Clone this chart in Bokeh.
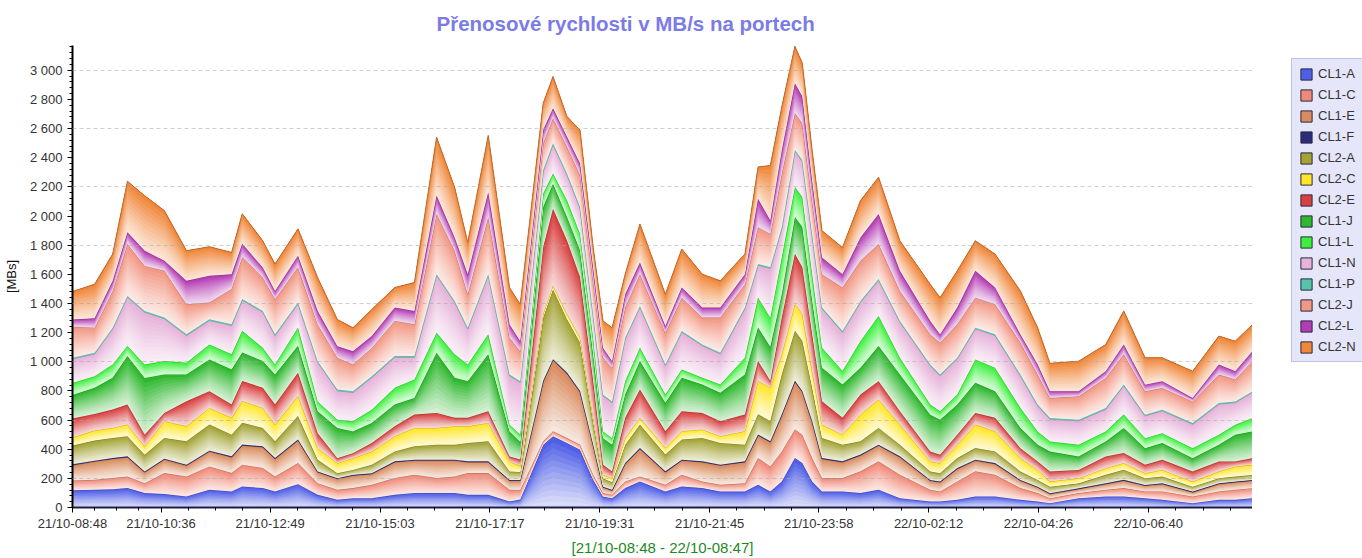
import numpy as np
from bokeh.plotting import figure
from bokeh.layouts import row
from bokeh.models import Range1d, FixedTicker, Legend, LegendItem
from bokeh.embed import file_html
from bokeh.resources import INLINE

# time axis: minutes after 21/10-08:48
minutes = [0, 27, 49, 67, 88, 112, 139, 167, 194, 207, 232, 247, 275, 299, 323,
           342, 365, 393, 417, 444, 466, 482, 507, 533, 546, 574, 586, 603, 619, 635,
           647, 658, 674, 692, 723, 743, 768, 790, 820, 836, 851, 865, 881, 890, 902,
           914, 939, 961, 983, 1009, 1046, 1058, 1079, 1101, 1125, 1156, 1177, 1192, 1227, 1260,
           1282, 1308, 1329, 1366, 1398, 1418, 1439]

CL1_A = [118,122,126,133,99, 92,76,122,110,144, 133,110,160,87,53, 64,64,87,99,99,
         99,87,87,41,55, 431,489,443,397,190, 76,64,133,179,110, 144,133,110,110,156,
         110,179,339,305,179, 110,110,99,122,64, 41,41,53,76,76, 53,41,30,64,76,
         76,64,53,30,53, 53,64]
CL1_C = [67,68,76,80,68, 144,137,160,126,150, 138,103,145,80,69, 69,92,115,126,103,
         114,149,149,81,65, 23,34,34,34,35, 23,23,46,34,46, 81,46,46,57,183,
         172,206,196,195,160, 92,92,149,195,161, 81,69,126,172,149, 80,58,34,35,46,
         57,46,57,46,57, 69,69]
CL1_E = [105,125,131,132,75, 93,75,102,109,131, 143,120,155,75,74, 86,74,109,97,120,
         109,75,75,62,64, 407,487,441,361,200, 39,29,120,189,86, 97,132,132,144,155,
         166,247,326,292,247, 131,109,109,108,120, 62,63,86,74,74, 51,39,29,28,39,
         51,40,51,28,51, 51,51]
CL1_F = [6,6,6,6,5, 6,6,6,6,7, 6,6,7,5,5, 5,5,6,6,6,
         6,6,6,5,5, 8,8,8,7,6, 5,5,6,6,6, 6,6,6,6,7,
         7,7,8,8,7, 6,6,6,6,6, 5,5,6,6,6, 5,5,5,5,5,
         6,5,5,5,5, 5,5]
CL2_A = [129,138,138,138,115, 142,160,179,149,149, 126,115,160,80,34, 34,58,68,92,103,
         103,126,137,58,55, 436,482,368,333,161, 58,52,126,161,115, 138,160,149,114,138,
         138,275,344,344,229, 138,114,91,115,80, 58,57,68,80,80, 58,46,45,34,58,
         69,46,46,34,35, 34,35]
CL2_C = [55,69,69,80,57, 115,103,114,115,149, 137,115,138,80,69, 80,91,104,126,115,
         126,114,126,69,40, 23,23,34,34,23, 23,28,46,46,45, 57,58,46,92,229,
         229,138,184,184,115, 92,69,184,195,138, 69,69,92,161,138, 91,69,35,35,46,
         46,34,46,35,46, 69,69]
CL2_E = [130,114,126,138,80, 57,172,115,92,138, 138,138,160,103,34, 35,58,68,92,103,
         58,58,81,34,45, 458,527,504,413,252, 69,46,138,195,115, 138,114,103,115,138,
         46,252,344,321,252, 160,115,137,126,92, 68,58,69,80,92, 69,58,69,57,80,
         69,58,69,69,69, 35,45]
CL1_J = [162,179,218,332,390, 264,184,218,240,195, 184,206,184,150,207, 149,137,150,114,413,
         275,252,390,172,120, 276,172,161,184,184, 183,183,160,195,195, 229,195,195,275,229,
         233,160,252,275,229, 230,229,184,241,252, 253,240,207,207,183, 138,114,137,92,103,
         172,114,115,91,114, 183,184]
CL1_L = [83,80,92,69,92, 92,80,103,104,149, 91,69,126,68,57, 69,92,114,127,137,
         161,115,137,46,50, 92,69,115,114,114, 46,46,92,91,57, 57,46,57,115,206,
         200,253,206,206,184, 137,92,183,206,115, 69,58,68,160,161, 137,92,69,80,69,
         92,69,68,69,69, 69,92]
CL1_N = [165,153,244,336,359, 290,187,164,198,210, 245,198,164,268,199, 198,221,210,152,394,
         358,244,405,336,359, 152,199,175,176,153, 244,244,290,279,199, 256,221,210,336,222,
         339,198,245,245,267, 268,267,267,245,244, 267,244,245,210,221, 222,176,153,164,152,
         198,153,153,164,210, 152,175]
CL1_P = [8,8,8,8,8, 8,8,8,8,8, 8,8,8,8,8, 8,8,8,8,8,
         8,8,8,8,8, 9,9,9,9,8, 8,8,8,8,8, 8,8,8,8,8,
         8,9,9,9,8, 8,8,8,8,8, 8,8,8,8,8, 8,8,8,8,8,
         8,8,8,8,8, 8,8]
CL2_J = [212,172,252,356,309, 321,207,115,243,287, 229,241,241,252,218, 184,195,241,218,413,
         345,229,390,252,206, 184,172,183,218,229, 253,230,207,218,217, 229,184,241,160,252,
         229,367,252,252,230, 229,298,276,241,206, 206,218,229,206,207, 218,206,137,161,207,
         207,160,149,149,195, 150,207]
CL2_L = [50,64,69,80,104, 69,160,184,100,92, 69,57,80,92,80, 91,81,92,92,126,
         91,138,172,92,69, 91,68,69,80,92, 68,46,91,80,46, 69,69,69,69,195,
         92,161,206,184,137, 115,92,160,206,138, 92,57,115,184,114, 57,69,46,34,46,
         68,46,46,23,69, 57,68]
CL2_N = [192,234,184,350,378, 344,207,199,150,206, 183,184,184,229,183, 161,183,137,195,401,
         344,218,390,252,253, 184,218,138,229,137, 184,229,138,264,218, 264,229,183,138,218,
         378,298,253,229,207, 183,183,253,252,206, 252,252,252,206,230, 298,252,192,207,183,
         230,184,161,184,195, 206,184]

series_names = ["CL1-A", "CL1-C", "CL1-E", "CL1-F", "CL2-A", "CL2-C", "CL2-E",
                "CL1-J", "CL1-L", "CL1-N", "CL1-P", "CL2-J", "CL2-L", "CL2-N"]
series_values = [CL1_A, CL1_C, CL1_E, CL1_F, CL2_A, CL2_C, CL2_E,
                 CL1_J, CL1_L, CL1_N, CL1_P, CL2_J, CL2_L, CL2_N]
colors = ["#4f5fe6", "#f08a78", "#d98c5f", "#2b2b7a", "#a3a336", "#ffe629", "#d94040",
          "#2eb82e", "#3cf03c", "#e6b3d9", "#55c4aa", "#f29985", "#b43cb4", "#f0883c"]
thin_series = {"CL1-F", "CL1-P"}

tick_minutes = [0, 108, 241, 375, 509, 643, 777, 910, 1044, 1178, 1312]
tick_labels = ["21/10-08:48", "21/10-10:36", "21/10-12:49", "21/10-15:03", "21/10-17:17",
               "21/10-19:31", "21/10-21:45", "21/10-23:58", "22/10-02:12", "22/10-04:26",
               "22/10-06:40"]
y_ticks = list(range(0, 3001, 200))

FONT = "Liberation Sans"
H = 558


def mix(c, f):
    r, g, b = int(c[1:3], 16), int(c[3:5], 16), int(c[5:7], 16)
    return "#%02x%02x%02x" % (round(255 + (r - 255) * f), round(255 + (g - 255) * f),
                              round(255 + (b - 255) * f))


def darker(c, f=0.78):
    r, g, b = int(c[1:3], 16), int(c[3:5], 16), int(c[5:7], 16)
    return "#%02x%02x%02x" % (round(r * f), round(g * f), round(b * f))


p = figure(width=1252, height=H, x_range=Range1d(0, 1439), y_range=Range1d(0, 3170),
           output_backend="svg", toolbar_location=None,
           min_border_left=65, min_border_right=0, min_border_top=45, min_border_bottom=44)
p.outline_line_color = None
p.background_fill_color = "white"

# legend panel figure
pl = figure(width=110, height=H, x_range=Range1d(0, 1), y_range=Range1d(0, 1),
            output_backend="svg", toolbar_location=None,
            x_axis_type=None, y_axis_type=None, min_border=0)
pl.outline_line_color = None
pl.xgrid.visible = False
pl.ygrid.visible = False

x = np.array(minutes, dtype=float)
cum = np.zeros(len(minutes))
NB = 12
legend_items = []
for name, vals, col in zip(series_names, series_values, colors):
    b = cum.copy()
    cum = cum + np.array(vals, dtype=float)
    t = cum.copy()
    if name in thin_series:
        p.varea(x=x, y1=b, y2=t, fill_color=col)
        p.line(x, t, line_color=col, line_width=1.3)
    else:
        for k in range(NB):
            lo = b + (t - b) * k / NB
            f = 0.18 + 0.82 * ((k + 1) / NB) ** 1.2
            p.varea(x=x, y1=lo, y2=t, fill_color=mix(col, f))
        p.line(x, t, line_color=darker(col), line_width=1)
    r = pl.quad(left=[np.nan], right=[np.nan], top=[np.nan], bottom=[np.nan],
                fill_color=col, line_color="#2a2a40")
    legend_items.append(LegendItem(label=name, renderers=[r]))

# axes
minor_x = []
for i in range(len(tick_minutes) - 1):
    a, c = tick_minutes[i], tick_minutes[i + 1]
    minor_x += [a + (c - a) * j / 4 for j in range(1, 4)]
step = (tick_minutes[-1] - tick_minutes[-2]) / 4
minor_x += [tick_minutes[-1] + step * j for j in range(1, 4)]
p.xaxis.ticker = FixedTicker(ticks=tick_minutes, minor_ticks=minor_x)
p.xaxis.major_label_overrides = {m: l for m, l in zip(tick_minutes, tick_labels)}
p.yaxis.ticker = FixedTicker(ticks=y_ticks, minor_ticks=list(range(0, 3170, 40)))
p.yaxis.major_label_overrides = {v: (f"{v:,}".replace(",", " ")) for v in y_ticks}

for ax in (p.xaxis[0], p.yaxis[0]):
    ax.axis_line_color = "black"
    ax.axis_line_width = 2
    ax.major_tick_line_color = "black"
    ax.minor_tick_line_color = "black"
    ax.major_tick_in = 0
    ax.major_tick_out = 5
    ax.minor_tick_in = 0
    ax.minor_tick_out = 3
    ax.major_label_text_font = FONT
    ax.major_label_text_font_size = "13px"
    ax.major_label_text_color = "#333333"
p.xaxis.axis_line_color = "#1c1c44"
p.xaxis.major_label_standoff = 3

p.xaxis.axis_label = "[21/10-08:48 - 22/10-08:47]"
p.xaxis.axis_label_text_font = FONT
p.xaxis.axis_label_text_font_size = "15px"
p.xaxis.axis_label_text_font_style = "normal"
p.xaxis.axis_label_text_color = "#1e8a1e"
p.xaxis.axis_label_standoff = 5

p.yaxis.axis_label = "[MBs]"
p.yaxis.axis_label_text_font = FONT
p.yaxis.axis_label_text_font_size = "13px"
p.yaxis.axis_label_text_font_style = "normal"
p.yaxis.axis_label_text_color = "#111111"
p.yaxis.axis_label_standoff = 8

p.xgrid.visible = False
p.ygrid.ticker = FixedTicker(ticks=list(range(200, 3001, 400)))
p.ygrid.grid_line_color = "#a8a8a8"
p.ygrid.grid_line_dash = "4 3"
p.ygrid.grid_line_alpha = 0.55
p.ygrid.level = "overlay"

# title
p.title.text = "Přenosové rychlosti v MB/s na portech"
p.title.text_font = FONT
p.title.text_font_size = "20.5px"
p.title.text_font_style = "bold"
p.title.text_color = "#7b7be8"
p.title.align = "left"
p.title.offset = 364
p.title.vertical_align = "top"
p.title.standoff = 18

legend = Legend(items=legend_items, location=(39, 145))
legend.margin = 0
legend.padding = 7
legend.spacing = 6
legend.glyph_width = 14
legend.glyph_height = 14
legend.label_height = 14
legend.label_standoff = 5
legend.label_text_font = FONT
legend.label_text_font_size = "13px"
legend.label_text_color = "#333333"
legend.background_fill_color = "#e6e6fa"
legend.background_fill_alpha = 1
legend.border_line_color = "#9a9ae0"
legend.border_line_width = 1
pl.add_layout(legend)

layout = row(p, pl)
open("out.html", "w").write(file_html(layout, INLINE))
